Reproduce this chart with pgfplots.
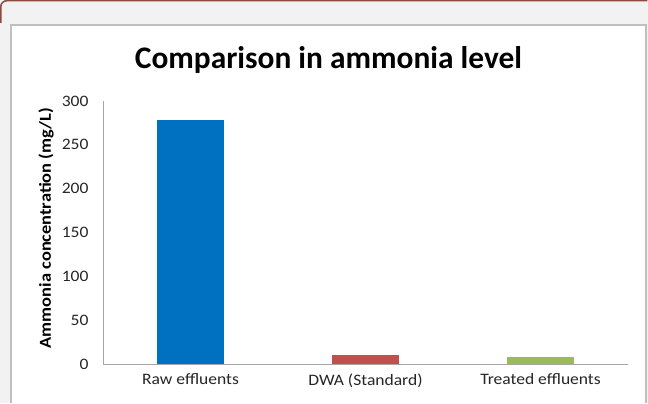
\documentclass[border=0pt]{standalone}
\usepackage{pgfplots}
\pgfplotsset{compat=1.18}
\usepackage{fontspec}
\setmainfont{Carlito}
\newfontfamily\wide[FakeStretch=1.1]{Carlito}
\definecolor{cblue}{HTML}{0070C0}
\definecolor{cred}{HTML}{C0504D}
\definecolor{cgreen}{HTML}{9BBB59}
\definecolor{bgrey}{HTML}{F2F2F2}
\definecolor{frame}{HTML}{BFBFBF}
\definecolor{axgrey}{HTML}{A6A6A6}
\definecolor{topred}{HTML}{8E4A3C}
\begin{document}
\begin{tikzpicture}[x=1bp,y=1bp]
\useasboundingbox (0,0) rectangle (648,403);
\fill[bgrey] (0,0) rectangle (648,403);
\draw[topred,line width=1.5bp,rounded corners=6bp] (0.75,380) -- (0.75,402.25) -- (647.25,402.25);
\fill[white] (11,0) rectangle (646,378);
\draw[frame,line width=1.8bp] (11,0) -- (11,378) -- (646,378) -- (646,0);
\begin{axis}[
  at={(103bp,39bp)}, anchor=south west,
  scale only axis, width=525bp, height=263bp,
  xmin=-0.5, xmax=2.5, ymin=0, ymax=300,
  ytick={0,50,...,300},
  xtick={0,1,2},
  xticklabels={Raw effluents, DWA (Standard), Treated effluents},
  axis x line*=bottom, axis y line*=left,
  axis line style={axgrey, line width=1bp, -},
  major tick length=0pt,
  ybar, bar width=67bp,
  ticklabel style={font=\wide\fontsize{16}{18}\selectfont, text=black!85},
  yticklabel style={xshift=-11bp},
  xticklabel style={yshift=-6bp},
  /pgf/number format/assume math mode=true,
]
\addplot[fill=cblue, draw=none, bar shift=0pt] coordinates {(0,278)};
\addplot[fill=cred, draw=none, bar shift=0pt] coordinates {(1,10)};
\addplot[fill=cgreen, draw=none, bar shift=0pt] coordinates {(2,8)};
\end{axis}
\node[font=\bfseries\fontsize{31.5}{36}\selectfont] at (328.5,343) {Comparison in ammonia level};
\node[font=\wide\bfseries\fontsize{16.8}{19}\selectfont, rotate=90] at (46,175) {Ammonia concentration (mg/L)};
\end{tikzpicture}
\end{document}
